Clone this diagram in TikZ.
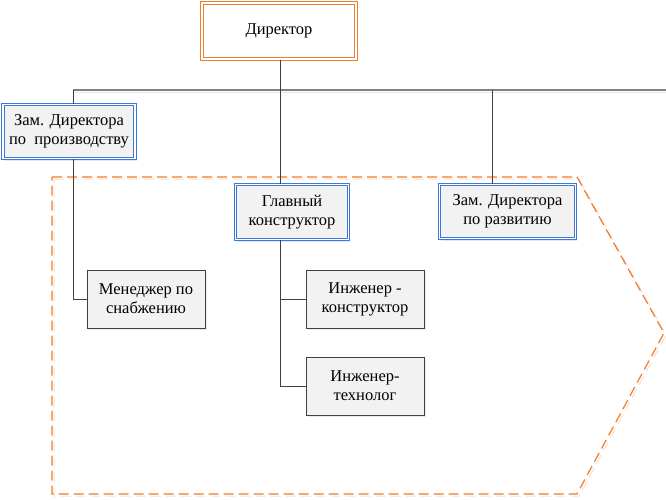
\documentclass[tikz,border=0pt]{standalone}
\usepackage{fontspec}
\setmainfont{Liberation Serif}
\usetikzlibrary{shadows}
\definecolor{orng}{HTML}{ED7D31}
\definecolor{blu}{HTML}{3C78D8}
\definecolor{boxfill}{HTML}{F2F2F2}
\definecolor{conn}{HTML}{404040}
\begin{document}
\begin{tikzpicture}[x=1pt,y=-1pt,
  txt/.style={font=\fontsize{16.5}{19}\selectfont, align=center, inner sep=0pt},
  dirbox/.style={txt, draw=orng, double=white, double distance=2.2pt, line width=1pt, fill=white,
     drop shadow={shadow xshift=1.5pt, shadow yshift=-2pt, fill=gray!40, opacity=0.6}},
  bluebox/.style={txt, draw=blu, double=white, double distance=1.6pt, line width=1pt, fill=boxfill,
     drop shadow={shadow xshift=1.5pt, shadow yshift=-2pt, fill=blu!25, opacity=0.7}},
  graybox/.style={txt, draw=conn, line width=0.7pt, fill=boxfill,
     drop shadow={shadow xshift=1.5pt, shadow yshift=-2pt, fill=blu!20, opacity=0.7}},
  link/.style={draw=conn, line width=0.8pt},
  bus/.style={draw=gray, line width=1.3pt},
  pent/.style={draw=orng, line width=1.2pt, dash pattern=on 10pt off 5pt}
]
\useasboundingbox (0,0) rectangle (666,499);
% dashed arrow shape
\draw[draw=orng!25, line width=1pt, dash pattern=on 10pt off 5pt] (54,179) -- (579,179) -- (666,335) -- (579,496) -- (54,496) -- cycle;
\draw[pent] (52,177) -- (577,177) -- (664,333) -- (577,494) -- (52,494) -- cycle;

% nodes
\node[dirbox, minimum width=154pt, minimum height=56pt] (dir) at (279,31) {Директор};
\node[bluebox, minimum width=132pt, minimum height=54pt] (zp) at (69,131.5) {Зам. Директора\\по\ \ производству};
\node[bluebox, minimum width=113pt, minimum height=55pt] (gk) at (292,212) {Главный\\конструктор};
\node[bluebox, minimum width=136pt, minimum height=54pt] (zr) at (507.5,211.5) {Зам. Директора\\по развитию};
\node[graybox, minimum width=118pt, minimum height=58pt] (men) at (146,299) {Менеджер по\\снабжению};
\node[graybox, minimum width=118pt, minimum height=58pt] (ik) at (365,299) {Инженер -\\конструктор};
\node[graybox, minimum width=118pt, minimum height=58pt] (it) at (365,386) {Инженер-\\технолог};

% connectors
\coordinate (busL) at (73,90);
\coordinate (busR) at (666,90);
\coordinate (xa) at (280.5,0);
\coordinate (xr) at (492,0);
\draw[draw=gray!20, line width=1.2pt] (73,92.5) -- (666,92.5);
\draw[bus] (busL) -- (busR);
\draw[link] (dir.south -| xa) -- (gk.north -| xa);
\draw[link] (busL) -- (zp.north -| busL);
\draw[link] (busR -| xr) -- (zr.north -| xr);
\draw[link] (zp.south -| busL) |- (men.west);
\draw[link] (gk.south -| xa) |- (ik.west);
\draw[link] (gk.south -| xa) |- (it.west);
\end{tikzpicture}
\end{document}
